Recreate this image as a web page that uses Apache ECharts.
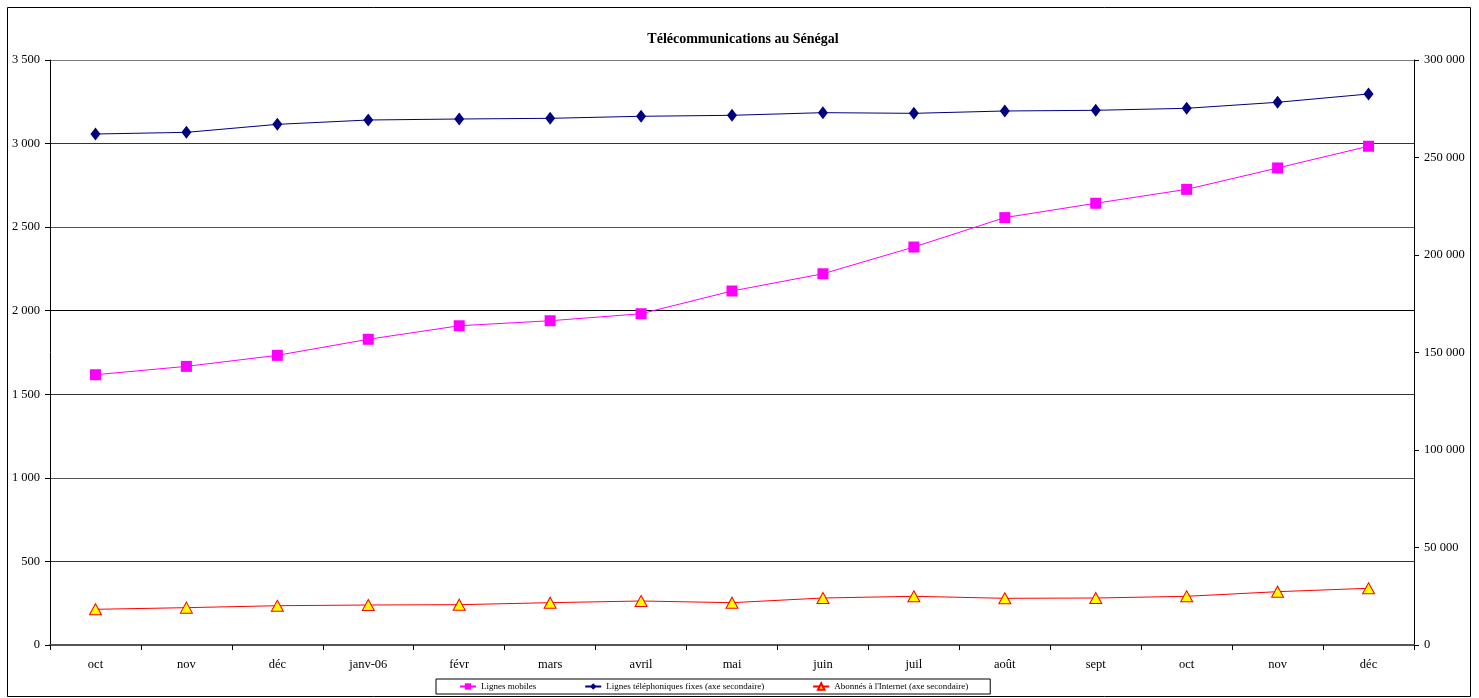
<!DOCTYPE html>
<html>
<head>
<meta charset="utf-8">
<script src="https://cdn.jsdelivr.net/npm/echarts@6/dist/echarts.min.js"></script>
<style>
html,body{margin:0;padding:0;background:#fff;}
#chart{width:1479px;height:698px;}
</style>
</head>
<body>
<div id="chart"></div>
<script>
var categories = ['oct','nov','déc','janv-06','févr','mars','avril','mai','juin','juil','août','sept','oct','nov','déc'];
var mobileLines = [1617,1667,1733,1829,1910,1940,1982,2118,2221,2381,2557,2643,2726,2854,2984];
var fixedLines = [262050,262900,267000,269230,269740,270100,271130,271640,272990,272650,273850,274200,275230,278310,282570];
var internetSubs = [18300,19150,20150,20510,20680,21700,22560,21700,24100,24970,23950,24100,24970,27340,29080];
var seriesNames = ['Lignes mobiles','Lignes téléphoniques fixes (axe secondaire)','Abonnés à l\'Internet (axe secondaire)'];
var titleText = 'Télécommunications au Sénégal';

function fmt(v){ return String(v).replace(/\B(?=(\d{3})+(?!\d))/g, ' '); }
var serif = '"Liberation Serif","Times New Roman",serif';

var chart = echarts.init(document.getElementById('chart'));
chart.setOption({
  animation:false,
  backgroundColor:'#fff',
  textStyle:{fontFamily:serif},
  title:{text:titleText,left:738,textAlign:'center',top:27,textStyle:{fontFamily:serif,fontSize:14,fontWeight:'bold',color:'#000'}},
  graphic:[{type:'rect',shape:{x:7.5,y:7.5,width:1463,height:689},style:{fill:null,stroke:'#000',lineWidth:1},silent:true,z:-1}],
  legend:{
    bottom:4,left:436,
    data:seriesNames,
    borderColor:'#000',borderWidth:1,borderRadius:0,
    padding:[3,22,3,23],
    itemGap:48,itemWidth:16,itemHeight:8,
    textStyle:{fontFamily:serif,fontSize:9,color:'#000'}
  },
  grid:{left:50,right:65,top:60,bottom:53},
  xAxis:{
    type:'category',data:categories,boundaryGap:true,
    axisLine:{lineStyle:{color:'#555',width:2}},
    axisTick:{show:true,interval:0,length:5,lineStyle:{color:'#000'}},
    axisLabel:{interval:0,color:'#000',fontSize:12.5,fontFamily:serif,margin:13}
  },
  yAxis:[{
    type:'value',min:0,max:3500,interval:500,position:'left',
    axisLine:{show:true,lineStyle:{color:'#000'}},
    axisTick:{show:true,length:5,lineStyle:{color:'#000'}},
    axisLabel:{color:'#000',fontSize:12.5,fontFamily:serif,formatter:fmt,margin:10},
    splitLine:{show:true,lineStyle:{color:['#000','#333','#555','#333','#000','#555','#333','#777'],width:1}}
  },{
    type:'value',min:0,max:300000,interval:50000,position:'right',
    axisLine:{show:true,lineStyle:{color:'#000'}},
    axisTick:{show:true,length:5,lineStyle:{color:'#000'}},
    axisLabel:{color:'#000',fontSize:12.5,fontFamily:serif,formatter:fmt,margin:10},
    splitLine:{show:false}
  }],
  series:[{
    name:seriesNames[0],type:'line',yAxisIndex:0,data:mobileLines,
    symbol:'rect',symbolSize:11,
    lineStyle:{color:'#FF00FF',width:1},
    itemStyle:{color:'#FF00FF'}
  },{
    name:seriesNames[1],type:'line',yAxisIndex:1,data:fixedLines,
    symbol:'diamond',symbolSize:[10,13],
    lineStyle:{color:'#000080',width:1},
    itemStyle:{color:'#000080'}
  },{
    name:seriesNames[2],type:'line',yAxisIndex:1,data:internetSubs,
    symbol:'triangle',symbolSize:[12,11],
    lineStyle:{color:'#FF0000',width:1},
    itemStyle:{color:'#FFFF00',borderColor:'#FF0000',borderWidth:1}
  }]
});
</script>
</body>
</html>
